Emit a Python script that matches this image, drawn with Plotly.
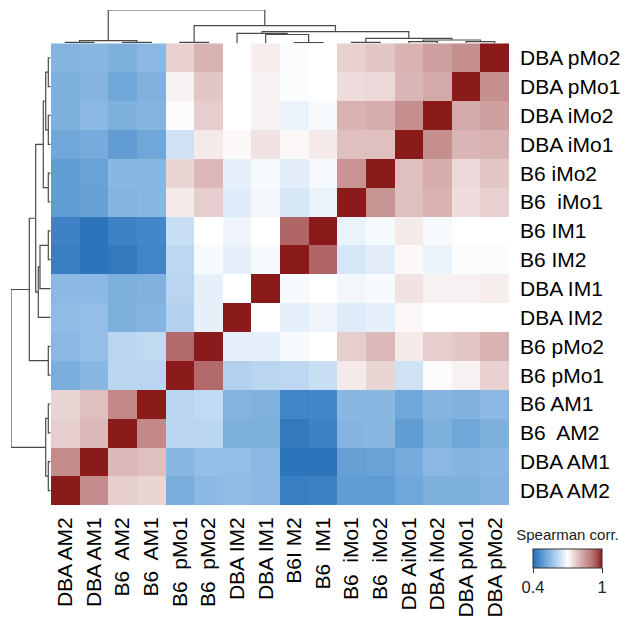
import plotly.graph_objects as go

# ---------------- data ----------------
col_labels = ["DBA AM2", "DBA AM1", "B6\u00a0 AM2", "B6\u00a0 AM1", "B6\u00a0 pMo1", "B6\u00a0 pMo2",
              "DBA IM2", "DBA IM1", "B6I M2", "B6\u00a0 IM1", "B6\u00a0 iMo1", "B6\u00a0 iMo2",
              "DB AiMo1", "DBA iMo2", "DBA pMo1", "DBA pMo2"]
# row labels listed bottom -> top
row_labels = ["DBA AM2", "DBA AM1", "B6\u00a0 AM2", "B6 AM1", "B6 pMo1", "B6 pMo2",
              "DBA IM2", "DBA IM1", "B6 IM2", "B6 IM1", "B6\u00a0 iMo1", "B6 iMo2",
              "DBA iMo1", "DBA iMo2", "DBA pMo1", "DBA pMo2"]

# correlation rows (same sample order as columns)
r_dba_am2  = [1.00, 0.875, 0.77, 0.76, 0.525, 0.55, 0.557, 0.55, 0.43, 0.44, 0.49, 0.49, 0.51, 0.53, 0.53, 0.54]
r_dba_am1  = [0.875, 1.00, 0.80, 0.79, 0.545, 0.56, 0.56, 0.55, 0.41, 0.41, 0.497, 0.50, 0.52, 0.548, 0.54, 0.545]
r_b6_am2   = [0.77, 0.80, 1.00, 0.88, 0.61, 0.61, 0.53, 0.53, 0.42, 0.44, 0.54, 0.545, 0.49, 0.53, 0.51, 0.53]
r_b6_am1   = [0.76, 0.79, 0.88, 1.00, 0.61, 0.62, 0.54, 0.535, 0.445, 0.45, 0.545, 0.545, 0.51, 0.54, 0.535, 0.55]
r_b6_pmo1  = [0.525, 0.545, 0.61, 0.61, 1.00, 0.925, 0.60, 0.61, 0.615, 0.63, 0.73, 0.76, 0.64, 0.705, 0.72, 0.765]
r_b6_pmo2  = [0.55, 0.56, 0.61, 0.62, 0.925, 1.00, 0.67, 0.67, 0.69, 0.70, 0.77, 0.80, 0.73, 0.77, 0.78, 0.81]
r_dba_im2  = [0.557, 0.56, 0.53, 0.54, 0.60, 0.67, 1.00, 0.70, 0.67, 0.68, 0.66, 0.67, 0.71, 0.70, 0.70, 0.70]
r_dba_im1  = [0.55, 0.55, 0.53, 0.535, 0.61, 0.67, 0.70, 1.00, 0.69, 0.70, 0.685, 0.69, 0.74, 0.72, 0.72, 0.725]
r_b6_im2   = [0.43, 0.41, 0.42, 0.445, 0.615, 0.69, 0.67, 0.69, 1.00, 0.93, 0.65, 0.665, 0.71, 0.675, 0.695, 0.695]
r_b6_im1   = [0.44, 0.41, 0.44, 0.45, 0.63, 0.70, 0.68, 0.70, 0.93, 1.00, 0.675, 0.69, 0.73, 0.69, 0.70, 0.70]
r_b6_imo1  = [0.49, 0.497, 0.54, 0.545, 0.73, 0.77, 0.66, 0.685, 0.65, 0.675, 1.00, 0.86, 0.79, 0.81, 0.75, 0.765]
r_b6_imo2  = [0.49, 0.50, 0.545, 0.545, 0.76, 0.80, 0.67, 0.69, 0.665, 0.69, 0.86, 1.00, 0.79, 0.82, 0.755, 0.78]
r_dba_imo1 = [0.51, 0.52, 0.49, 0.51, 0.64, 0.73, 0.71, 0.74, 0.71, 0.73, 0.79, 0.79, 1.00, 0.87, 0.805, 0.81]
r_dba_imo2 = [0.53, 0.548, 0.53, 0.54, 0.705, 0.77, 0.70, 0.72, 0.675, 0.69, 0.81, 0.82, 0.87, 1.00, 0.825, 0.84]
r_dba_pmo1 = [0.53, 0.54, 0.51, 0.535, 0.72, 0.78, 0.70, 0.72, 0.695, 0.70, 0.75, 0.755, 0.805, 0.825, 1.00, 0.87]
r_dba_pmo2 = [0.54, 0.545, 0.53, 0.55, 0.765, 0.81, 0.70, 0.725, 0.695, 0.70, 0.765, 0.78, 0.81, 0.84, 0.87, 1.00]

# dendrogram merges: (child_a, child_b); leaves 0..15, new nodes numbered 16..
merges = [(0, 1), (2, 3), (16, 17), (4, 5), (8, 9), (7, 20), (6, 21), (10, 11),
          (12, 13), (14, 15), (24, 25), (23, 26), (22, 27), (19, 28), (18, 29)]
col_heights = [1.0, 1.0, 2.6, 1.0, 0.6, 8.8, 10.0, 1.0, 1.6, 1.6, 3.3, 5.0, 11.6, 17.6, 33.3]
row_heights = [2.4, 2.4, 5.0, 2.4, 2.4, 10.7, 12.4, 2.4, 2.4, 2.4, 5.0, 7.4, 15.0, 21.4, 39.7]

# ---------------- figure ----------------
z = [r_dba_am2, r_dba_am1, r_b6_am2, r_b6_am1, r_b6_pmo1, r_b6_pmo2, r_dba_im2, r_dba_im1,
     r_b6_im2, r_b6_im1, r_b6_imo1, r_b6_imo2, r_dba_imo1, r_dba_imo2, r_dba_pmo1, r_dba_pmo2]
n = len(col_labels)

W, H = 629, 618
hm_x0, hm_x1 = 51, 509
hm_top, hm_bot = 43.3, 505

colorscale = [
    [0.0000, "#2870b8"], [0.0833, "#4387c8"], [0.1667, "#68a2d6"], [0.25, "#8cb9e3"],
    [0.3333, "#b3d1ee"], [0.4167, "#d6e6f6"], [0.5, "#ffffff"], [0.5833, "#eedcdc"],
    [0.6667, "#dcb8b8"], [0.75, "#cc9a9a"], [0.8333, "#bd7e7e"], [0.9167, "#a85656"],
    [1.0, "#8b1a1a"],
]

FONT = "Liberation Sans, Arial, Helvetica, sans-serif"

fig = go.Figure()
fig.add_trace(go.Heatmap(
    z=z, x=list(range(n)), y=list(range(n)), zmin=0.4, zmax=1.0,
    colorscale=colorscale, hoverinfo="skip",
    colorbar=dict(
        orientation="h", thickness=19, len=69, lenmode="pixels",
        x=533 / W, xanchor="left", y=1 - 532 / H, yanchor="top",
        xpad=0, ypad=0, outlinewidth=1, outlinecolor="#333",
        tickvals=[0.4, 1.0], ticktext=["0.4", "1"], ticks="outside", ticklen=5,
        tickcolor="#333", tickfont=dict(size=16.5, family=FONT, color="#222"),
        title=dict(text="Spearman corr.", side="top", font=dict(size=15, family=FONT, color="#222")),
    ),
))


def dendro_segments(heights):
    pos = {i: float(i) for i in range(n)}
    hgt = {i: 0.0 for i in range(n)}
    xs, ys = [], []
    for k, ((a, b), h) in enumerate(zip(merges, heights)):
        node = n + k
        pa, pb = pos[a], pos[b]
        xs += [pa, pa, pb, pb, None]
        ys += [hgt[a], h, h, hgt[b], None]
        pos[node] = (pa + pb) / 2
        hgt[node] = h
    return xs, ys


cx, cy = dendro_segments(col_heights)
fig.add_trace(go.Scatter(x=cx, y=cy, mode="lines", xaxis="x2", yaxis="y2",
                         line=dict(color="#4a4a4a", width=1.2), hoverinfo="skip"))
rx, ry = dendro_segments(row_heights)
fig.add_trace(go.Scatter(x=ry, y=rx, mode="lines", xaxis="x3", yaxis="y3",
                         line=dict(color="#4a4a4a", width=1.2), hoverinfo="skip"))

xd = [hm_x0 / W, hm_x1 / W]
yd = [1 - hm_bot / H, 1 - hm_top / H]
rng = [-0.5, n - 0.5]

fig.update_layout(
    width=W, height=H, margin=dict(l=0, r=0, t=0, b=0),
    paper_bgcolor="white", plot_bgcolor="white", showlegend=False,
    font=dict(family=FONT, color="#000"),
    xaxis=dict(domain=xd, range=rng, tickmode="array", tickvals=list(range(n)),
               ticktext=col_labels, tickangle=-90, ticks="", showgrid=False, zeroline=False,
               showline=False, tickfont=dict(size=21, family=FONT, color="#000"),
               ticklabelstandoff=7),
    yaxis=dict(domain=yd, range=rng, tickmode="array", tickvals=list(range(n)),
               ticktext=row_labels, side="right", ticks="", showgrid=False, zeroline=False,
               showline=False, tickfont=dict(size=21, family=FONT, color="#000"),
               ticklabelstandoff=10),
    xaxis2=dict(domain=xd, range=rng, anchor="y2", visible=False, matches="x"),
    yaxis2=dict(domain=[1 - hm_top / H, 1 - 10 / H], range=[0, max(col_heights)],
                anchor="x2", visible=False),
    xaxis3=dict(domain=[11 / W, 50.7 / W], range=[max(row_heights), 0], anchor="y3",
                visible=False),
    yaxis3=dict(domain=yd, range=rng, anchor="x3", visible=False, matches="y"),
)

fig.write_html("out.html")
